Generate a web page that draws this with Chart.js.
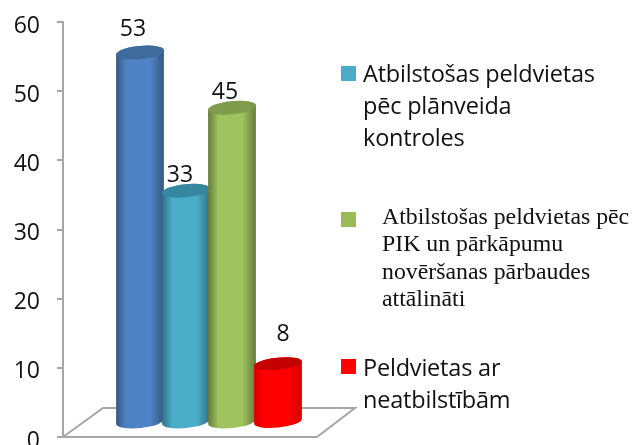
<!DOCTYPE html>
<html>
<head>
<meta charset="utf-8">
<style>
  html,body{margin:0;padding:0;background:#fff;overflow:hidden}
  #wrap{position:relative;width:635px;height:445px;overflow:hidden}
  canvas{position:absolute;left:0;top:0}
  .sw{position:absolute;width:15px;height:15px}
  .lg{position:absolute;color:#111;white-space:nowrap}
  .sans{font:23.5px/32px "Open Sans",sans-serif;letter-spacing:-.2px}
  .serif{font:23.8px/27.4px "Liberation Serif",serif}
</style>
</head>
<body>
<div id="wrap">
  <canvas id="chart" width="635" height="445"></canvas>
  <div id="legend"></div>
</div>
<script src="https://cdn.jsdelivr.net/npm/chart.js@4"></script>
<script>
// ---------- data ----------
const categories = ['A', 'B', 'C', 'D'];
const values = [53, 33, 45, 8];
const sideColors = ['#4f82c4', '#4aaec9', '#9fc35f', '#ff0000'];
const edgeColors = ['#34597f', '#2f7186', '#66793c', '#d80000'];
const capColors  = ['#3e6a9c', '#36869f', '#7f9c4c', '#c40000'];
const yTicks = [0, 10, 20, 30, 40, 50, 60];
const labelNudgeX = [-7, -6, -7, 5];
const labelNudgeY = [-2, 6, 6, -8];

const legendItems = [
  { color:'#4bacc6', lines:['Atbilstošas peldvietas','pēc plānveida','kontroles'], cls:'sans', sw:66, x:363, y:57 },
  { color:'#9bbb59', lines:['Atbilstošas peldvietas pēc','PIK un pārkāpumu','novēršanas pārbaudes','attālināti'], cls:'serif', sw:212, x:382, y:203 },
  { color:'#ff0000', lines:['Peldvietas ar','neatbilstībām'], cls:'sans', sw:359, x:363, y:351 }
];

// ---------- fake 3D look ----------
const DX = 54, DY = 18;     // depth offset of the bars from the axis
const BASE_UP = 14.5;       // bottom of cylinder sits on the floor
const RY = 6.5, TILT = -0.1;
const AXIS = '#a6a6a6';

const floorPlugin = {
  id: 'floor',
  beforeDatasetsDraw(chart){
    const { ctx, chartArea:a } = chart;
    ctx.save();
    ctx.strokeStyle = AXIS;
    ctx.lineWidth = 2;
    ctx.beginPath();
    ctx.moveTo(a.left, a.bottom);
    ctx.lineTo(a.left + 40, a.bottom - 29);
    ctx.lineTo(a.left + 292, a.bottom - 29);
    ctx.lineTo(a.left + 254, a.bottom);
    ctx.closePath();
    ctx.stroke();
    ctx.restore();
  }
};

const cylinderPlugin = {
  id: 'cylinder',
  beforeDatasetDraw(chart, args){
    const { ctx } = chart;
    chart.getDatasetMeta(args.index).data.forEach((bar, i) => {
      const { x, y, base, width } = bar.getProps(['x','y','base','width'], true);
      const cx = x + DX, top = y - DY, bottom = base - BASE_UP, rx = width / 2;
      const ry = values[i] < 10 ? RY - 0.5 : RY;
      const g = ctx.createLinearGradient(cx - rx, 0, cx + rx, 0);
      g.addColorStop(0, edgeColors[i]);
      g.addColorStop(.22, sideColors[i]);
      g.addColorStop(.72, sideColors[i]);
      g.addColorStop(1, edgeColors[i]);
      ctx.save();
      ctx.fillStyle = g;
      ctx.beginPath();
      ctx.ellipse(cx, bottom, rx, ry, TILT, 0, Math.PI);
      ctx.ellipse(cx, top, rx, ry, TILT, Math.PI, Math.PI * 2);
      ctx.closePath();
      ctx.fill();
      ctx.fillStyle = capColors[i];
      ctx.beginPath();
      ctx.ellipse(cx, top, rx, ry, TILT, 0, Math.PI * 2);
      ctx.fill();
      ctx.fillStyle = '#111';
      ctx.font = '23px "Open Sans", sans-serif';
      ctx.textAlign = 'center';
      ctx.textBaseline = 'middle';
      ctx.fillText(values[i], cx + labelNudgeX[i], top - 21 + labelNudgeY[i]);
      ctx.restore();
    });
    return false; // default flat rectangles not wanted
  }
};

new Chart(document.getElementById('chart'), {
  type: 'bar',
  data: {
    labels: categories,
    datasets: [{ data: values, backgroundColor: sideColors, barThickness: 48 }]
  },
  options: {
    responsive: false,
    animation: false,
    events: [],
    layout: { padding: { left: 0, right: 388, top: 22, bottom: 8 } },
    plugins: { legend: { display: false }, tooltip: { enabled: false } },
    scales: {
      x: { display: false },
      y: {
        min: 0, max: 60,
        afterBuildTicks(s){ s.ticks = yTicks.map(v => ({ value: v })); },
        // tick text may overhang the plot, the bottom "0" is cut by the picture edge
        afterFit(s){ s.width = 63; s.paddingTop = 0; s.paddingBottom = 0; },
        border: { color: AXIS, width: 2 },
        grid: { drawOnChartArea: false, drawTicks: true, tickLength: 6, color: AXIS, lineWidth: 2 },
        ticks: { color: '#111', padding: 17, font: { family: '"Open Sans", sans-serif', size: 23 }, labelOffset: 4 }
      }
    }
  },
  plugins: [floorPlugin, cylinderPlugin]
});

// ---------- legend ----------
document.getElementById('legend').innerHTML = legendItems.map(it => `
  <div class="sw" style="left:341px;top:${it.sw}px;background:${it.color}"></div>
  <div class="lg ${it.cls}" style="left:${it.x}px;top:${it.y}px">${it.lines.join('<br>')}</div>
`).join('');
</script>
</body>
</html>
